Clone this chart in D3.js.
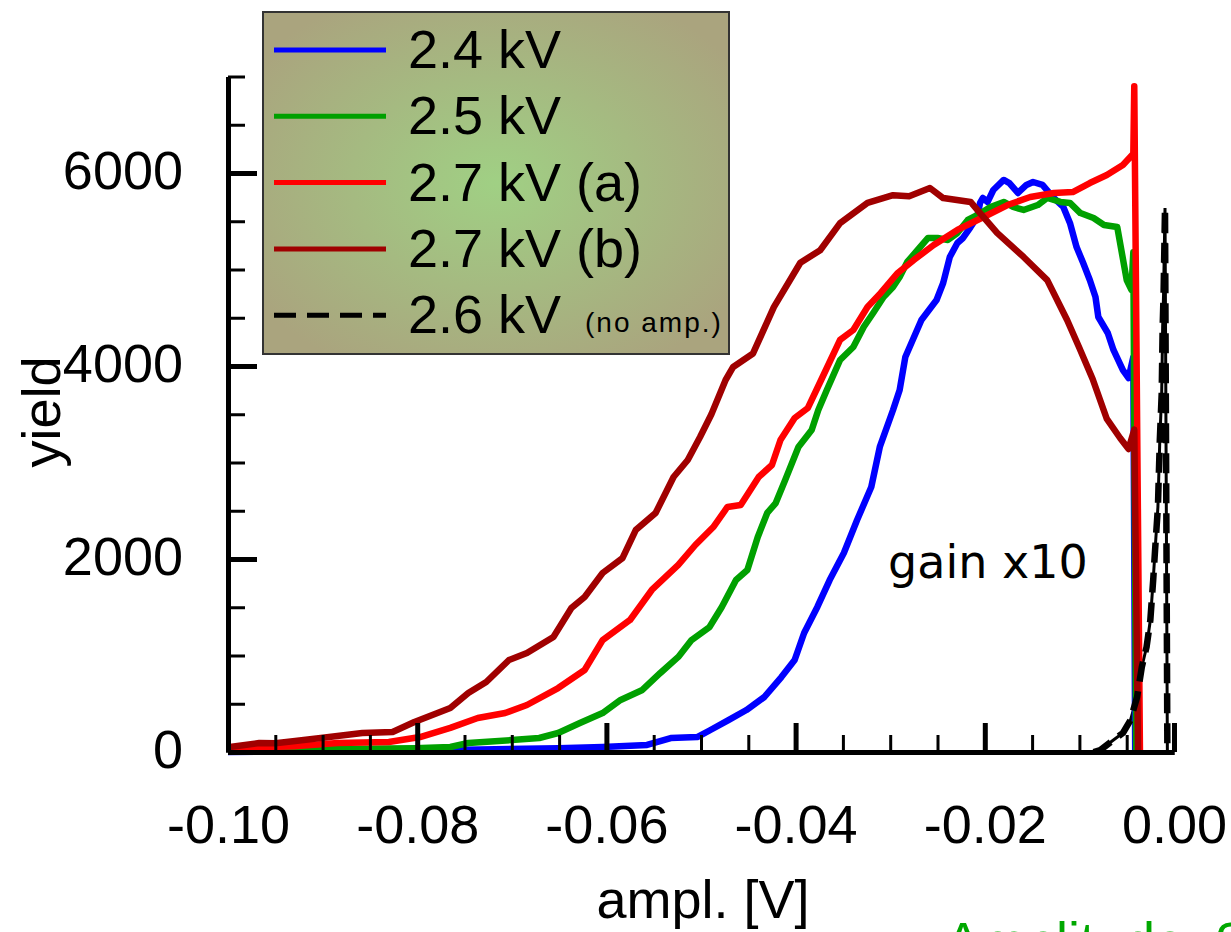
<!DOCTYPE html>
<html>
<head>
<meta charset="utf-8">
<script src="https://cdn.jsdelivr.net/npm/d3@7"></script>
<style>
  html, body { margin: 0; padding: 0; background: #fff; overflow: hidden; }
  svg { display: block; }
  text { font-family: "Liberation Sans", Arial, sans-serif; fill: #000; }
</style>
</head>
<body>
<div id="chart"></div>
<script>
// pulse-height spectra, yield vs amplitude
const X_TICKS = [-0.10, -0.08, -0.06, -0.04, -0.02, 0.00];
const X_TICK_LABELS = ['-0.10', '-0.08', '-0.06', '-0.04', '-0.02', '0.00'];
const Y_TICKS = [0, 2000, 4000, 6000];
const Y_TICK_LABELS = ['0', '2000', '4000', '6000'];

// [ampl V, yield]
const KV24 = [
  [-0.1000, 0], [-0.0765, 20], [-0.0651, 40], [-0.0604, 52], [-0.0557, 73], [-0.0532, 145],
  [-0.0504, 155], [-0.0490, 228], [-0.0471, 331], [-0.0452, 435], [-0.0433, 570], [-0.0415, 777],
  [-0.0401, 953], [-0.0391, 1233], [-0.0377, 1503], [-0.0364, 1782], [-0.0349, 2062], [-0.0335, 2404],
  [-0.0320, 2746], [-0.0311, 3161], [-0.0297, 3544], [-0.0290, 3751], [-0.0284, 4093], [-0.0267, 4477],
  [-0.0251, 4684], [-0.0244, 4860], [-0.0237, 5130], [-0.0229, 5275], [-0.0223, 5327], [-0.0215, 5440],
  [-0.0208, 5544], [-0.0205, 5690], [-0.0202, 5741], [-0.0197, 5700], [-0.0191, 5824], [-0.0180, 5928],
  [-0.0174, 5896], [-0.0165, 5793], [-0.0156, 5876], [-0.0149, 5907], [-0.0139, 5876], [-0.0128, 5751],
  [-0.0117, 5648], [-0.0110, 5482], [-0.0103, 5233], [-0.0096, 5067], [-0.0089, 4891], [-0.0083, 4715],
  [-0.0080, 4508], [-0.0070, 4342], [-0.0064, 4166], [-0.0054, 3958], [-0.0048, 3875], [-0.0043, 4093],
  [-0.0041, 0]
];
const KV25 = [
  [-0.1000, 20], [-0.0803, 40], [-0.0765, 52], [-0.0746, 93], [-0.0700, 124], [-0.0671, 145],
  [-0.0651, 197], [-0.0628, 300], [-0.0604, 404], [-0.0585, 539], [-0.0562, 643], [-0.0543, 819],
  [-0.0524, 985], [-0.0510, 1160], [-0.0491, 1295], [-0.0478, 1503], [-0.0463, 1782], [-0.0451, 1886],
  [-0.0440, 2228], [-0.0430, 2477], [-0.0421, 2580], [-0.0411, 2819], [-0.0397, 3161], [-0.0383, 3337],
  [-0.0376, 3544], [-0.0367, 3751], [-0.0353, 4062], [-0.0339, 4197], [-0.0328, 4404], [-0.0318, 4549],
  [-0.0307, 4715], [-0.0297, 4819], [-0.0290, 4923], [-0.0282, 5078], [-0.0271, 5202], [-0.0260, 5327],
  [-0.0250, 5327], [-0.0239, 5306], [-0.0229, 5378], [-0.0218, 5513], [-0.0204, 5585], [-0.0194, 5648],
  [-0.0180, 5700], [-0.0170, 5648], [-0.0159, 5617], [-0.0144, 5668], [-0.0134, 5741], [-0.0120, 5700],
  [-0.0110, 5690], [-0.0099, 5585], [-0.0085, 5534], [-0.0074, 5461], [-0.0060, 5440], [-0.0050, 4891],
  [-0.0045, 4788], [-0.0043, 5180], [-0.0040, 0]
];
const KV27A = [
  [-0.1000, 40], [-0.0930, 60], [-0.0884, 93], [-0.0830, 104], [-0.0797, 155], [-0.0765, 250],
  [-0.0736, 352], [-0.0707, 404], [-0.0684, 487], [-0.0651, 663], [-0.0623, 850], [-0.0604, 1160],
  [-0.0575, 1368], [-0.0552, 1679], [-0.0524, 1938], [-0.0506, 2145], [-0.0487, 2331], [-0.0472, 2539],
  [-0.0458, 2560], [-0.0439, 2850], [-0.0425, 2974], [-0.0416, 3233], [-0.0401, 3461], [-0.0387, 3565],
  [-0.0373, 3855], [-0.0353, 4270], [-0.0339, 4373], [-0.0324, 4611], [-0.0310, 4757], [-0.0292, 4964],
  [-0.0275, 5099], [-0.0254, 5254], [-0.0229, 5410], [-0.0212, 5492], [-0.0197, 5565], [-0.0176, 5668],
  [-0.0152, 5751], [-0.0127, 5793], [-0.0107, 5803], [-0.0089, 5896], [-0.0071, 5979], [-0.0054, 6083],
  [-0.0043, 6200], [-0.0042, 6900], [-0.0036, 0]
];
const KV27B = [
  [-0.1000, 50], [-0.0967, 93], [-0.0950, 90], [-0.0929, 114], [-0.0902, 145], [-0.0858, 197],
  [-0.0826, 207], [-0.0803, 311], [-0.0765, 456], [-0.0746, 611], [-0.0727, 725], [-0.0703, 953],
  [-0.0684, 1026], [-0.0656, 1192], [-0.0637, 1492], [-0.0623, 1606], [-0.0604, 1855], [-0.0583, 2010],
  [-0.0569, 2300], [-0.0548, 2476], [-0.0529, 2850], [-0.0514, 3026], [-0.0501, 3264], [-0.0489, 3500],
  [-0.0474, 3855], [-0.0466, 3990], [-0.0445, 4130], [-0.0423, 4610], [-0.0395, 5070], [-0.0374, 5200],
  [-0.0353, 5480], [-0.0324, 5690], [-0.0297, 5770], [-0.0280, 5760], [-0.0258, 5845], [-0.0244, 5740],
  [-0.0215, 5700], [-0.0205, 5585], [-0.0187, 5380], [-0.0159, 5130], [-0.0134, 4890], [-0.0113, 4477],
  [-0.0100, 4187], [-0.0086, 3865], [-0.0071, 3451], [-0.0057, 3254], [-0.0048, 3140], [-0.0042, 3340],
  [-0.0038, 0]
];
const KV26_NOAMP = [
  [-0.0085, 0], [-0.0078, 20], [-0.0064, 124], [-0.0054, 197], [-0.0046, 331], [-0.0039, 570],
  [-0.0034, 881], [-0.0029, 1088], [-0.0025, 1368], [-0.0022, 1782], [-0.0020, 2093], [-0.0017, 2539],
  [-0.0016, 2891], [-0.0015, 3233], [-0.0013, 3720], [-0.0012, 4404], [-0.0011, 4757], [-0.00095, 5637],
  [-0.0007, 0]
];

const LEGEND_LABELS = ['2.4 kV', '2.5 kV', '2.7 kV (a)', '2.7 kV (b)', '2.6 kV'];
const LEGEND_NOTE = '(no amp.)';
const BLUE = '#0000ff', GREEN = '#00a000', RED = '#ff0000', DARKRED = '#a00000', BLACK = '#000';

const W = 1231, H = 932;
const svg = d3.select('#chart').append('svg').attr('width', W).attr('height', H);

const x = d3.scaleLinear().domain([-0.1, 0]).range([228, 1174]);
const y = d3.scaleLinear().domain([0, 7000]).range([752, 76.5]);

const defs = svg.append('defs');
const grad = defs.append('radialGradient').attr('id', 'legbg')
  .attr('cx', '50%').attr('cy', '50%').attr('r', '62%');
grad.append('stop').attr('offset', '0%').attr('stop-color', '#a0d084');
grad.append('stop').attr('offset', '100%').attr('stop-color', '#aaa47e');

// curves
const line = d3.line().x(d => x(d[0])).y(d => y(d[1]));
// no-amp trace: thin solid under the dashes, like the dense-point look of the original
svg.append('path').attr('d', line(KV26_NOAMP)).attr('fill', 'none')
  .attr('stroke', BLACK).attr('stroke-width', 3);
const series = [
  { data: KV24, color: BLUE },
  { data: KV25, color: GREEN },
  { data: KV27A, color: RED },
  { data: KV27B, color: DARKRED },
  { data: KV26_NOAMP, color: BLACK, dash: '20,10' }
];
svg.append('g').selectAll('path')
  .data(series)
  .join('path')
  .attr('d', d => line(d.data))
  .attr('fill', 'none')
  .attr('stroke', d => d.color)
  .attr('stroke-width', 6.5)
  .attr('stroke-linejoin', 'round')
  .attr('stroke-dasharray', d => d.dash || null);

// axes
const xMinor = d3.range(0, 21).map(i => -0.1 + i * 0.005).filter((_, i) => i % 4 !== 0);
const yMinor = d3.range(0, 15).map(i => i * 500).filter(v => v % 2000 !== 0);

const gx = svg.append('g').attr('transform', `translate(0,${y(0)})`);
gx.call(d3.axisBottom(x).tickValues(xMinor).tickSize(-17).tickSizeOuter(0).tickFormat(''));
gx.call(g => g.selectAll('.tick line').attr('stroke-width', 3));
const gxMaj = svg.append('g').attr('transform', `translate(0,${y(0)})`);
gxMaj.call(d3.axisBottom(x).tickValues(X_TICKS).tickSize(-29).tickSizeOuter(0).tickPadding(53)
  .tickFormat((d, i) => X_TICK_LABELS[i]));
gxMaj.selectAll('.tick line').attr('stroke-width', 5);
gxMaj.selectAll('.tick text').attr('font-size', 54).attr('font-family', '"Liberation Sans", Arial, sans-serif');

const gy = svg.append('g').attr('transform', `translate(${x(-0.1)},0)`);
gy.call(d3.axisLeft(y).tickValues(yMinor).tickSize(-17).tickSizeOuter(0).tickFormat(''));
gy.call(g => g.selectAll('.tick line').attr('stroke-width', 3));
const gyMaj = svg.append('g').attr('transform', `translate(${x(-0.1)},0)`);
gyMaj.call(d3.axisLeft(y).tickValues(Y_TICKS).tickSize(-29).tickSizeOuter(0).tickPadding(45)
  .tickFormat((d, i) => Y_TICK_LABELS[i]));
gyMaj.selectAll('.tick line').attr('stroke-width', 5);
gyMaj.selectAll('.tick text').attr('font-size', 54).attr('dy', '0.29em')
  .attr('font-family', '"Liberation Sans", Arial, sans-serif');

svg.selectAll('.domain').attr('stroke-width', 5).attr('stroke', '#000');

// axis titles
svg.append('text').attr('x', 703).attr('y', 918).attr('text-anchor', 'middle')
  .attr('font-size', 54).text('ampl. [V]');
svg.append('text').attr('transform', 'translate(60,412) rotate(-90)').attr('text-anchor', 'middle')
  .attr('font-size', 54).text('yield');

svg.append('text').attr('x', 888).attr('y', 578)
  .style('font-family', '"DejaVu Sans", Verdana, sans-serif').attr('font-size', 46).text('gain x10');

// caption of the next figure, cut off at the bottom edge as in the source image
svg.append('text').attr('x', 945).attr('y', 960).attr('font-size', 54)
  .style('fill', '#00a800').text('Amplitude, 2');

// legend
const leg = svg.append('g');
leg.append('rect').attr('x', 263).attr('y', 12).attr('width', 466).attr('height', 342)
  .attr('fill', 'url(#legbg)').attr('stroke', '#333').attr('stroke-width', 2);
const legColors = [BLUE, GREEN, RED, DARKRED, BLACK];
const rowY = i => 50 + i * 66.3;
leg.selectAll('line.key').data(LEGEND_LABELS).join('line').attr('class', 'key')
  .attr('x1', 274).attr('x2', 386)
  .attr('y1', (d, i) => rowY(i)).attr('y2', (d, i) => rowY(i))
  .attr('stroke', (d, i) => legColors[i]).attr('stroke-width', 5)
  .attr('stroke-dasharray', (d, i) => i === 4 ? '22,11' : null);
leg.selectAll('text.lab').data(LEGEND_LABELS).join('text').attr('class', 'lab')
  .attr('x', 408).attr('y', (d, i) => rowY(i) + 18)
  .attr('font-size', 54).text(d => d);
leg.append('text').attr('x', 585).attr('y', rowY(4) + 17).attr('font-size', 28)
  .attr('letter-spacing', 2).text(LEGEND_NOTE);
</script>
</body>
</html>
